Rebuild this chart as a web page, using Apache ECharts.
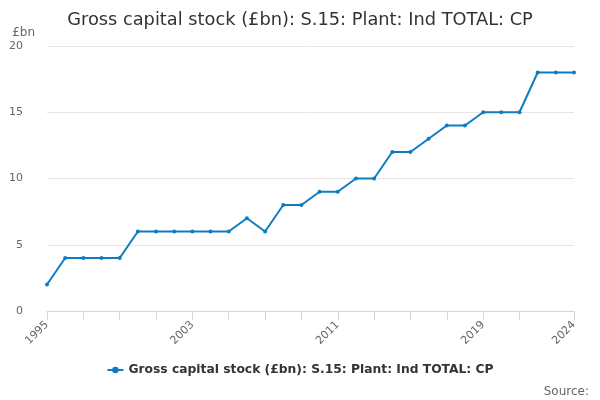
<!DOCTYPE html>
<html>
<head>
<meta charset="utf-8">
<script src="https://cdn.jsdelivr.net/npm/echarts@6/dist/echarts.min.js"></script>
<style>
  html, body { margin: 0; padding: 0; background: #fff; }
  #chart { width: 600px; height: 400px; }
</style>
</head>
<body>
<div id="chart"></div>
<script>
var years = [];
for (var y = 1995; y <= 2024; y++) years.push(String(y));

var stock = [2, 4, 4, 4, 4, 6, 6, 6, 6, 6, 6, 7, 6, 8, 8, 9, 9, 10, 10, 12,
  12, 13, 14, 14, 15, 15, 15, 18, 18, 18];

var seriesName = 'Gross capital stock (£bn): S.15: Plant: Ind TOTAL: CP';
var lineColor = '#0f7cc1';
var font = 'DejaVu Sans, sans-serif';
var last = years.length - 1;

var chart = echarts.init(document.getElementById('chart'));
chart.setOption({
  animation: false,
  backgroundColor: '#fff',
  title: [{
    text: seriesName,
    left: 'center',
    top: 6,
    textStyle: { fontFamily: font, fontSize: 17.8, fontWeight: 'normal', color: '#333' }
  }, {
    text: 'Source:',
    right: 6,
    top: 381,
    textStyle: { fontFamily: font, fontSize: 12, fontWeight: 'normal', color: '#666' }
  }],
  legend: {
    data: [seriesName],
    bottom: 19,
    left: 'center',
    itemWidth: 16,
    itemHeight: 8,
    itemGap: 5,
    textStyle: { fontFamily: font, fontSize: 12.3, fontWeight: 'bold', color: '#333' }
  },
  grid: { left: 47, right: 26, top: 46, bottom: 89 },
  xAxis: {
    type: 'category',
    data: years,
    boundaryGap: false,
    axisLine: { lineStyle: { color: '#ccd6eb' } },
    axisTick: {
      length: 9,
      lineStyle: { color: '#ccd6eb' },
      interval: function (i) { return (i % 2 === 0 && i < last - 1) || i === last; }
    },
    axisLabel: {
      rotate: 45,
      fontFamily: font,
      fontSize: 11,
      color: '#666',
      margin: 12,
      interval: function (i) { return i % 8 === 0 || i === last; }
    }
  },
  yAxis: {
    type: 'value',
    min: 0,
    max: 20,
    interval: 5,
    name: '£bn',
    nameGap: 7,
    nameTextStyle: { fontFamily: font, fontSize: 12, color: '#666', align: 'right', padding: [0, 12, 0, 0] },
    axisLine: { show: false },
    axisTick: { show: false },
    splitLine: { lineStyle: { color: '#e6e6e6' } },
    axisLabel: { fontFamily: font, fontSize: 11, color: '#666', margin: 24 }
  },
  series: [{
    name: seriesName,
    type: 'line',
    data: stock,
    color: lineColor,
    symbol: 'circle',
    symbolSize: 4,
    lineStyle: { width: 2, color: lineColor },
    itemStyle: { color: lineColor }
  }]
});
</script>
</body>
</html>
